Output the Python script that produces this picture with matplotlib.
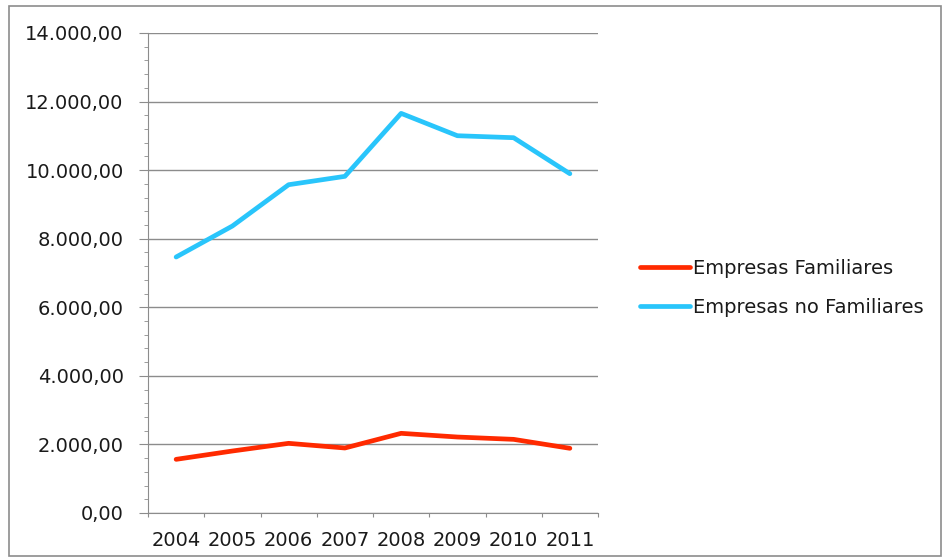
import matplotlib.pyplot as plt
from matplotlib.patches import Rectangle
from matplotlib.ticker import FixedLocator, MultipleLocator, FuncFormatter

anos = ['2004', '2005', '2006', '2007', '2008', '2009', '2010', '2011']
familiares = [1565, 1808, 2032, 1896, 2324, 2216, 2148, 1887]
no_familiares = [7466, 8370, 9575, 9819, 11656, 11004, 10946, 9896]

fig = plt.figure(figsize=(9.47, 5.59), dpi=100)
ax = fig.add_axes([148 / 947, 1 - 513 / 559, 450 / 947, 480 / 559])

x = list(range(len(anos)))
ax.plot(x, familiares, color='#ff2a00', lw=3.4, solid_capstyle='round',
        label='Empresas Familiares')
ax.plot(x, no_familiares, color='#29c5fb', lw=3.4, solid_capstyle='round',
        label='Empresas no Familiares')

ax.set_xlim(-0.5, len(anos) - 0.5)
ax.set_ylim(0, 14000)

# y axis: gridlines every 2000, 4 minor ticks between
ax.yaxis.set_major_locator(MultipleLocator(2000))
ax.yaxis.set_minor_locator(MultipleLocator(400))
ax.yaxis.set_major_formatter(FuncFormatter(
    lambda v, p: f'{v:,.2f}'.replace(',', 'X').replace('.', ',').replace('X', '.')))
ax.grid(axis='y', which='major', color='#8c8c8c', lw=1)
ax.tick_params(axis='y', which='major', length=6.5, color='#8c8c8c', labelsize=14,
               pad=11, labelcolor='#1a1a1a')
ax.tick_params(axis='y', which='minor', length=3, color='#8c8c8c')

# x axis: ticks between categories, labels centred
ax.xaxis.set_major_locator(FixedLocator([i - 0.5 for i in range(len(anos) + 1)]))
ax.xaxis.set_minor_locator(FixedLocator(x))
ax.set_xticklabels([])
ax.set_xticks(x, anos, minor=True)
ax.tick_params(axis='x', which='major', length=3, color='#8c8c8c')
ax.tick_params(axis='x', which='minor', length=0, labelsize=14, pad=13,
               labelcolor='#1a1a1a')

for s in ['top', 'right']:
    ax.spines[s].set_visible(False)
for s in ['left', 'bottom']:
    ax.spines[s].set_color('#8c8c8c')
ax.set_axisbelow(True)

ax.legend(loc='center left', bbox_to_anchor=(622 / 947, 1 - 288 / 559),
          bbox_transform=fig.transFigure, frameon=False, fontsize=14,
          handlelength=2.6, handletextpad=0.15, labelspacing=1.05,
          labelcolor='#1a1a1a')

fig.patches.append(Rectangle((9 / 947, 1 - 556 / 559), 932 / 947, 550 / 559,
                             transform=fig.transFigure, fill=False,
                             edgecolor='#8c8c8c', lw=1.2))

fig.savefig('out.png', dpi=100)
